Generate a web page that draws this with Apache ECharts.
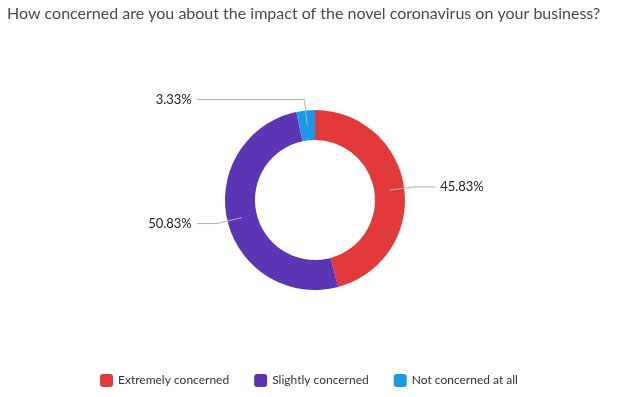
<!DOCTYPE html>
<html>
<head>
<meta charset="utf-8">
<script src="https://cdn.jsdelivr.net/npm/echarts@6/dist/echarts.min.js"></script>
<style>
  html, body { margin: 0; padding: 0; background: #fff; }
  #chart { width: 630px; height: 397px; }
</style>
</head>
<body>
<div id="chart"></div>
<script>
var categories = ['Extremely concerned', 'Slightly concerned', 'Not concerned at all'];
var values = [45.83, 50.83, 3.33];
var colors = ['#E23A3A', '#5C35B5', '#1A9AE6'];

var pieData = categories.map(function (name, i) {
	return { name: name, value: values[i], itemStyle: { color: colors[i] } };
});

var chart = echarts.init(document.getElementById('chart'));
chart.setOption({
	textStyle: { fontFamily: 'Lato' },
	title: {
		text: 'How concerned are you about the impact of the novel coronavirus on your business?',
		left: 2,
		top: 1,
		textStyle: { fontSize: 16, fontWeight: 'normal', color: '#4a4a4a', fontFamily: 'Lato' }
	},
	legend: {
		bottom: 5,
		left: 95,
		icon: 'path://M3,0 H10 A3,3 0 0 1 13,3 V10 A3,3 0 0 1 10,13 H3 A3,3 0 0 1 0,10 V3 A3,3 0 0 1 3,0 Z',
		itemWidth: 13,
		itemHeight: 13,
		itemGap: 25,
		textStyle: { fontSize: 12, color: '#333' },
		data: categories
	},
	series: [
		{
			// visible ring
			type: 'pie',
			center: [315, 200],
			radius: [60, 90],
			startAngle: 90,
			clockwise: true,
			silent: true,
			label: { show: false },
			labelLine: { show: false },
			data: pieData
		},
		{
			// invisible pie carrying the labels, lines start mid-ring
			type: 'pie',
			center: [315, 200],
			radius: [0, 75],
			startAngle: 90,
			clockwise: true,
			silent: true,
			z: 3,
			itemStyle: { color: 'transparent' },
			label: {
				show: true,
				formatter: function (p) { return p.value.toFixed(2) + '%'; },
				fontSize: 13,
				color: '#222',
				alignTo: 'labelLine',
				edgeDistance: 146
			},
			labelLine: {
				show: true,
				length: 26,
				length2: 20,
				lineStyle: { color: '#b0b0b0', width: 1 }
			},
			data: categories.map(function (name, i) {
				return { name: name, value: values[i] };
			})
		}
	]
});
</script>
</body>
</html>
